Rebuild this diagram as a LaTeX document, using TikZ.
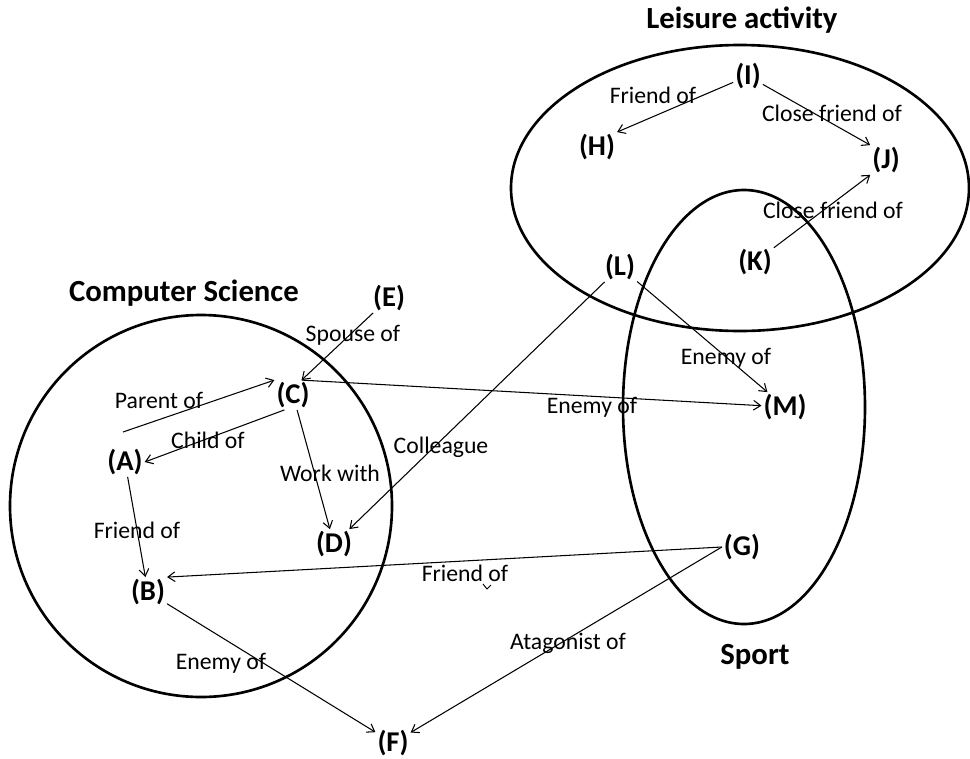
\documentclass[tikz,border=0pt]{standalone}
\usepackage{fontspec}
\setmainfont{Carlito}
\usetikzlibrary{arrows.meta}

\begin{document}
\begin{tikzpicture}[x=0.02cm,y=-0.02cm,
  set/.style={line width=1.5pt},
  ent/.style={font=\fontsize{16.3}{19}\selectfont\bfseries, inner sep=1pt},
  title/.style={font=\fontsize{17.5}{21}\selectfont\bfseries},
  lab/.style={font=\fontsize{13.5}{16}\selectfont, inner sep=0pt},
  rel/.style={line width=0.6pt, -{Straight Barb[length=4pt,width=5.5pt]}}]
\useasboundingbox (0,0) rectangle (970,758);
%
\draw [set] (201,506) circle [radius=191];
\draw [set] (740,188) ellipse [x radius=229, y radius=143];
\draw [set] (744,407) ellipse [x radius=121, y radius=217];
%
\node [title] (cs)      at (184,293) {Computer Science};
\node [title] (leisure) at (742,20)  {Leisure activity};
\node [title] (sport)   at (755,657) {Sport};
%
\node [ent] (A) at (125,462) {(A)};
\node [ent] (B) at (148,592) {(B)};
\node [ent] (C) at (293,395) {(C)};
\node [ent] (D) at (334,544) {(D)};
\node [ent] (E) at (389,298) {(E)};
\node [ent] (F) at (393,743) {(F)};
\node [ent] (G) at (742,547) {(G)};
\node [ent] (H) at (597,147) {(H)};
\node [ent] (I) at (748,76)  {(I)};
\node [ent] (J) at (886,160) {(J)};
\node [ent] (K) at (755,262) {(K)};
\node [ent] (L) at (620,267) {(L)};
\node [ent] (M) at (785,407) {(M)};
\coordinate (parentstart) at (123,432);
%
\draw [rel] (parentstart) -- (C.north west);
\draw [rel] (C.240) -- (A.east);
\draw [rel] (A) -- (B);
\draw [rel] (C) -- (D);
\draw [rel] (E) -- (C.60);
\draw [rel] (C.60) -- (M);
\draw [rel] (L) -- (D);
\draw [rel] (L) -- (M);
\draw [rel] (G.west) -- (B.north east);
\draw [rel] (G.west) -- (F);
\draw [rel] (B) -- (F);
\draw [rel] (I) -- (H.north east);
\draw [rel] (I) -- (J.north west);
\draw [rel] (K) -- (J.south west);
\draw [line width=0.5pt] (483,584) -- (487,589) -- (491,585);
%
\node [lab] (parentof)   at (159,400) {Parent of};
\node [lab] (childof)    at (208,440) {Child of};
\node [lab] (friendab)   at (137,530) {Friend of};
\node [lab] (workwith)   at (330,473) {Work with};
\node [lab] (spouseof)   at (353,335) {Spouse of};
\node [lab] (colleague)  at (441,447) {Colleague};
\node [lab] (enemycm)    at (592,407) {Enemy of};
\node [lab] (enemylm)    at (726,358) {Enemy of};
\node [lab] (friendgb)   at (465,573) {Friend of};
\node [lab] (atagonist)  at (568,643) {Atagonist of};
\node [lab] (enemybf)    at (221,663) {Enemy of};
\node [lab] (friendih)   at (653,95)  {Friend of};
\node [lab] (closeij)    at (832,113) {Close friend of};
\node [lab] (closekj)    at (833,210) {Close friend of};
\end{tikzpicture}
\end{document}
